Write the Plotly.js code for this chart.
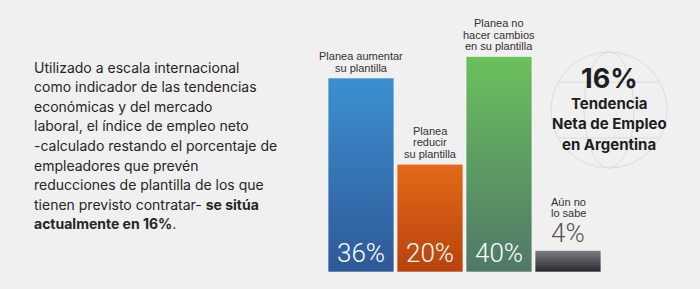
<!DOCTYPE html>
<html>
<head>
<meta charset="utf-8">
<script src="https://cdn.plot.ly/plotly-3.0.1.min.js"></script>
<style>
html,body{margin:0;padding:0;background:#f0f0f0;}
#chart{width:700px;height:289px;}
</style>
</head>
<body>
<div id="chart"></div>
<script>
// ---- data ----
const categories = ['Planea aumentar su plantilla', 'Planea reducir su plantilla', 'Planea no hacer cambios en su plantilla', 'Aún no lo sabe'];
const values = [36, 20, 40, 4];
const labelLines = [
  ['Planea aumentar', 'su plantilla'],
  ['Planea', 'reducir', 'su plantilla'],
  ['Planea no', 'hacer cambios', 'en su plantilla'],
  ['Aún no', 'lo sabe']
];
const topColors = ['#3b90d0', '#e26a18', '#6cc05c', '#7c7d83'];
const bottomColors = ['#2f5898', '#b8420c', '#4e7868', '#2a2b30'];
const paragraphLines = [
  'Utilizado a escala internacional',
  'como indicador de las tendencias',
  'económicas y del mercado',
  'laboral, el índice de empleo neto',
  '-calculado restando el porcentaje de',
  'empleadores que prevén',
  'reducciones de plantilla de los que',
  'tienen previsto contratar- <b>se sitúa</b>',
  '<b>actualmente en 16%</b>.'
];
const headline = '16%';
const headlineLines = ['Tendencia', 'Neta de Empleo', 'en Argentina'];

// ---- layout helpers ----
const W = 700, H = 289;
const px = x => x / W;
const py = y => 1 - y / H;

const annotations = [];
// paragraph
paragraphLines.forEach((t, i) => {
  annotations.push({xref: 'paper', yref: 'paper', x: px(32), y: py(67 + i * 19.6),
    xanchor: 'left', yanchor: 'middle', showarrow: false, align: 'left', text: t,
    font: {family: 'Inter, sans-serif', size: 14, color: '#262626'}});
});
// bar labels and values
categories.forEach((c, i) => {
  const outside = values[i] < 10;
  const lines = labelLines[i];
  const base = outside ? 37 : 10;
  lines.forEach((t, j) => {
    annotations.push({xref: 'x', yref: 'y', x: c, y: values[i], yanchor: 'middle', xanchor: 'center',
      yshift: base + (lines.length - 1 - j) * 11.8, showarrow: false, text: t,
      font: {family: 'Liberation Sans, Arial, sans-serif', size: 11, color: '#333'}});
  });
  annotations.push({xref: 'x', yref: 'y', x: c, y: outside ? values[i] : 0, yanchor: 'middle', xanchor: 'center',
    yshift: outside ? 17 : 19, showarrow: false, text: values[i] + '%',
    font: {family: 'Roboto, sans-serif', size: 26, weight: 300, color: outside ? '#555' : '#ffffff'}});
});
// headline block
annotations.push({xref: 'paper', yref: 'paper', x: px(609), y: py(79), xanchor: 'center', yanchor: 'middle',
  showarrow: false, text: '<b>' + headline + '</b>', font: {family: 'Inter, sans-serif', size: 27, color: '#1e1e1e'}});
headlineLines.forEach((t, i) => {
  annotations.push({xref: 'paper', yref: 'paper', x: px(609), y: py(103 + i * 20.5), xanchor: 'center', yanchor: 'middle',
    showarrow: false, text: '<b>' + t + '</b>', font: {family: 'Inter, sans-serif', size: 15, color: '#1e1e1e'}});
});

// globe decoration
const gc = {x: 609, y: 110, r: 58};
const gline = {color: '#d6dce2', width: 1};
const shapes = [
  {type: 'circle', xref: 'paper', yref: 'paper', x0: px(gc.x - gc.r), x1: px(gc.x + gc.r), y0: py(gc.y + gc.r), y1: py(gc.y - gc.r), line: gline, layer: 'below'},
  {type: 'circle', xref: 'paper', yref: 'paper', x0: px(gc.x - 25), x1: px(gc.x + 25), y0: py(gc.y + gc.r), y1: py(gc.y - gc.r), line: gline, layer: 'below'}
];
[-28, 28].forEach(d => {
  const hw = Math.sqrt(gc.r * gc.r - d * d);
  shapes.push({type: 'line', xref: 'paper', yref: 'paper', x0: px(gc.x - hw), x1: px(gc.x + hw), y0: py(gc.y + d), y1: py(gc.y + d), line: gline, layer: 'below'});
});

const trace = {
  type: 'bar', x: categories, y: values,
  marker: {color: topColors, line: {color: 'rgba(255,255,255,0.55)', width: 1}},
  hoverinfo: 'none'
};

const layout = {
  width: W, height: H,
  margin: {l: 0, r: 0, t: 0, b: 0},
  paper_bgcolor: '#f0f0f0', plot_bgcolor: 'rgba(0,0,0,0)',
  showlegend: false,
  bargap: 0.045,
  xaxis: {domain: [326.5 / W, 602.5 / W], type: 'category', range: [-0.5, categories.length - 0.5], autorange: false,
    showticklabels: false, showgrid: false, zeroline: false, showline: false, fixedrange: true},
  yaxis: {domain: [17 / H, (17 + 45 * 5.39) / H], range: [0, 45], autorange: false, visible: false, fixedrange: true},
  annotations: annotations,
  shapes: shapes
};

const gd = document.getElementById('chart');
Plotly.newPlot(gd, [trace], layout, {displayModeBar: false, staticPlot: true}).then(() => {
  const svg = gd.querySelector('.main-svg');
  const NS = 'http://www.w3.org/2000/svg';
  let defs = svg.querySelector('defs');
  if (!defs) { defs = document.createElementNS(NS, 'defs'); svg.insertBefore(defs, svg.firstChild); }
  topColors.forEach((c, i) => {
    const g = document.createElementNS(NS, 'linearGradient');
    g.setAttribute('id', 'barGrad' + i);
    g.setAttribute('x1', '0'); g.setAttribute('y1', '0'); g.setAttribute('x2', '0'); g.setAttribute('y2', '1');
    const s1 = document.createElementNS(NS, 'stop'); s1.setAttribute('offset', '0'); s1.setAttribute('stop-color', c);
    const s2 = document.createElementNS(NS, 'stop'); s2.setAttribute('offset', '1'); s2.setAttribute('stop-color', bottomColors[i]);
    g.appendChild(s1); g.appendChild(s2); defs.appendChild(g);
  });
  gd.querySelectorAll('.barlayer .point path').forEach((p, i) => { p.style.fill = 'url(#barGrad' + i + ')'; });
});
</script>
</body>
</html>
